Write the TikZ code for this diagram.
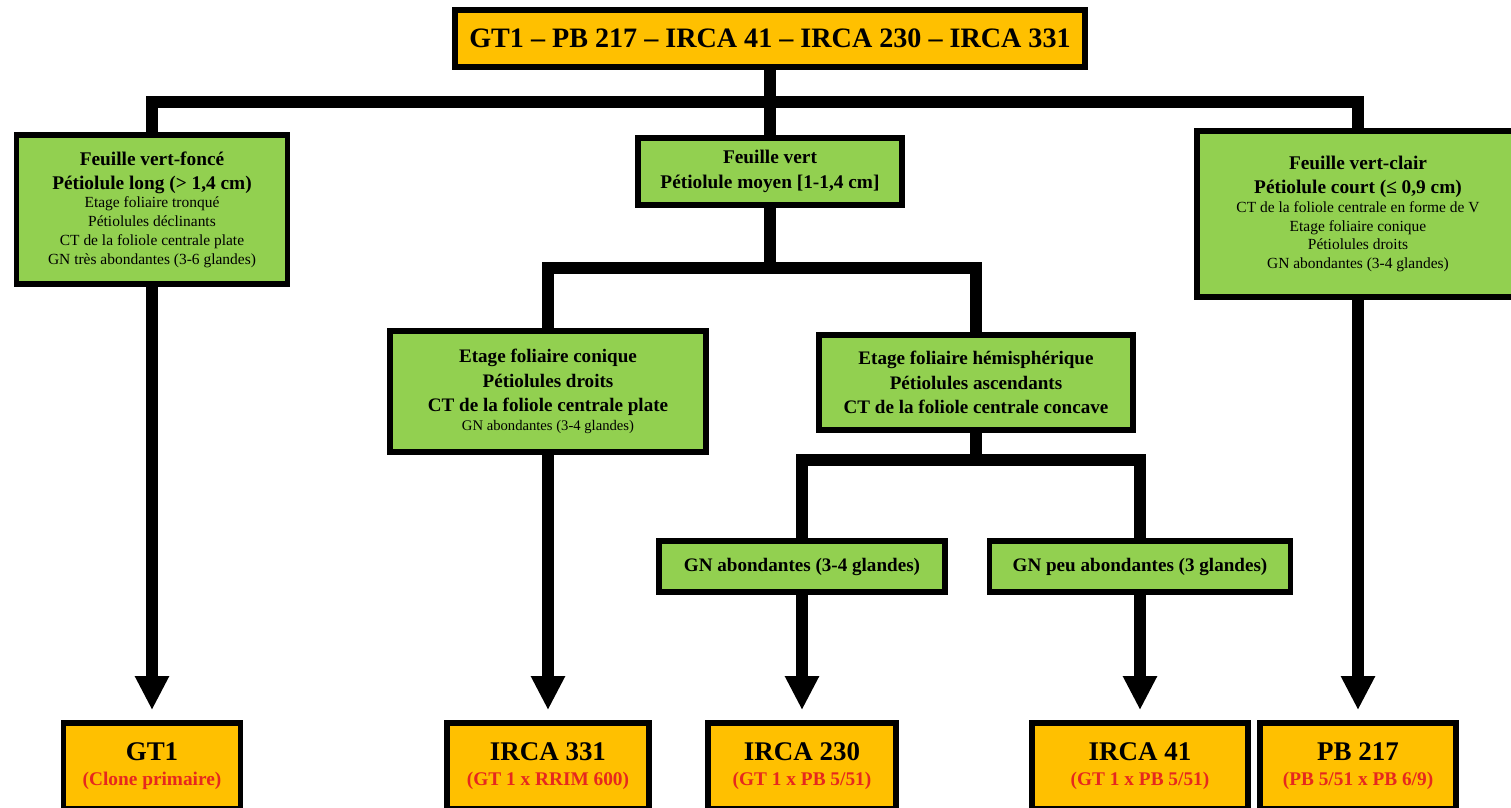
\documentclass[tikz,border=0pt]{standalone}
\usepackage{fontspec}
\setmainfont{Liberation Serif}
\usetikzlibrary{arrows.meta}

\definecolor{cloneorange}{HTML}{FFC000}
\definecolor{leafgreen}{HTML}{92D050}
\definecolor{crossred}{RGB}{230,40,30}

\newcommand{\toptext}{\fontsize{24}{28}\selectfont\bfseries}
\newcommand{\headtext}{\fontsize{16.5}{20}\selectfont\bfseries}
\newcommand{\notetext}{\fontsize{13.2}{16}\selectfont\mdseries}
\newcommand{\keytext}{\fontsize{16.3}{21}\selectfont\bfseries}
\newcommand{\smallkey}{\fontsize{12.5}{15}\selectfont\mdseries}
\newcommand{\clonetext}{\fontsize{23}{26}\selectfont\bfseries}
\newcommand{\crosstext}{\fontsize{16.5}{21}\selectfont\bfseries\color{crossred}}

\begin{document}
\begin{tikzpicture}[x=0.03cm,y=-0.03cm]
\tikzset{box/.style={draw,line width=5pt,align=center,inner sep=2pt},
clonebox/.style={box,fill=cloneorange,font=\fontsize{16.5}{21}\selectfont},
leafbox/.style={box,fill=leafgreen,font=\fontsize{13.2}{16}\selectfont},
keybox/.style={box,fill=leafgreen,font=\fontsize{16.3}{21}\selectfont},
trunk/.style={line width=10pt}}
\clip (0,0) rectangle (1511,807);
\fill[white] (0,0) rectangle (1511,807);

\node[clonebox,minimum width=18.9cm,minimum height=1.71cm] (clone-list) at (770,38.5)
{\toptext GT1 – PB 217 – IRCA 41 – IRCA 230 – IRCA 331};

\node[leafbox,minimum width=8.13cm,minimum height=4.47cm] (dark-leaf) at (152,209.5)
{\headtext Feuille vert-foncé\\[4.5pt] \headtext Pétiolule long (> 1,4 cm)\\
\notetext Etage foliaire tronqué\\ \notetext Pétiolules déclinants\\
\notetext CT de la foliole centrale plate\\ \notetext GN très abondantes (3-6 glandes)};
\node[keybox,minimum width=7.92cm,minimum height=2.01cm] (mid-leaf) at (770,171.5)
{\headtext Feuille vert\\ \headtext Pétiolule moyen [1-1,4 cm]};
\node[leafbox,minimum width=9.66cm,minimum height=4.98cm] (light-leaf) at (1358,214)
{\headtext Feuille vert-clair\\[4.5pt] \headtext Pétiolule court (≤ 0,9 cm)\\
\notetext CT de la foliole centrale en forme de V\\ \notetext Etage foliaire conique\\
\notetext Pétiolules droits\\ \notetext GN abondantes (3-4 glandes)};

\node[keybox,minimum width=9.48cm,minimum height=3.63cm] (conic-tier) at (548,391.5)
{\keytext Etage foliaire conique\\ \keytext Pétiolules droits\\
\keytext CT de la foliole centrale plate\\[-5pt] \smallkey GN abondantes (3-4 glandes)};
\node[keybox,minimum width=9.42cm,minimum height=2.85cm] (hemi-tier) at (976,382.5)
{\keytext Etage foliaire hémisphérique\\ \keytext Pétiolules ascendants\\
\keytext CT de la foliole centrale concave};

\node[keybox,minimum width=8.58cm,minimum height=1.53cm] (gn-abundant) at (802,566.5)
{\keytext GN abondantes (3-4 glandes)};
\node[keybox,minimum width=9.03cm,minimum height=1.53cm] (gn-sparse) at (1140,566.5)
{\keytext GN peu abondantes (3 glandes)};

\node[clonebox,minimum width=5.31cm,minimum height=2.58cm] (gt1) at (152,766)
{\clonetext GT1\\ \crosstext (Clone primaire)};
\node[clonebox,minimum width=6.06cm,minimum height=2.58cm] (irca-331) at (548,766)
{\clonetext IRCA 331\\ \crosstext (GT 1 x RRIM 600)};
\node[clonebox,minimum width=5.64cm,minimum height=2.58cm] (irca-230) at (802,766)
{\clonetext IRCA 230\\ \crosstext (GT 1 x PB 5/51)};
\node[clonebox,minimum width=6.48cm,minimum height=2.58cm] (irca-41) at (1140,766)
{\clonetext IRCA 41\\ \crosstext (GT 1 x PB 5/51)};
\node[clonebox,minimum width=5.88cm,minimum height=2.58cm] (pb-217) at (1358,766)
{\clonetext PB 217\\ \crosstext (PB 5/51 x PB 6/9)};

\coordinate (split-top) at (770,102);
\coordinate (split-mid) at (770,268);
\coordinate (split-hemi) at (976,460);

\draw[trunk] (clone-list) -- (split-top);
\draw[trunk] (dark-leaf) |- (split-top) -| (light-leaf);
\draw[trunk] (split-top) -- (mid-leaf);
\draw[trunk] (mid-leaf) -- (split-mid);
\draw[trunk] (conic-tier) |- (split-mid) -| (hemi-tier);
\draw[trunk] (hemi-tier) -- (split-hemi);
\draw[trunk] (gn-abundant) |- (split-hemi) -| (gn-sparse);

\path[draw,trunk,-{Triangle[width=0.96cm,length=1.02cm]},shorten >=0.3cm]
(dark-leaf) edge (gt1)
(conic-tier) edge (irca-331)
(gn-abundant) edge (irca-230)
(gn-sparse) edge (irca-41)
(light-leaf) edge (pb-217);
\end{tikzpicture}
\end{document}
